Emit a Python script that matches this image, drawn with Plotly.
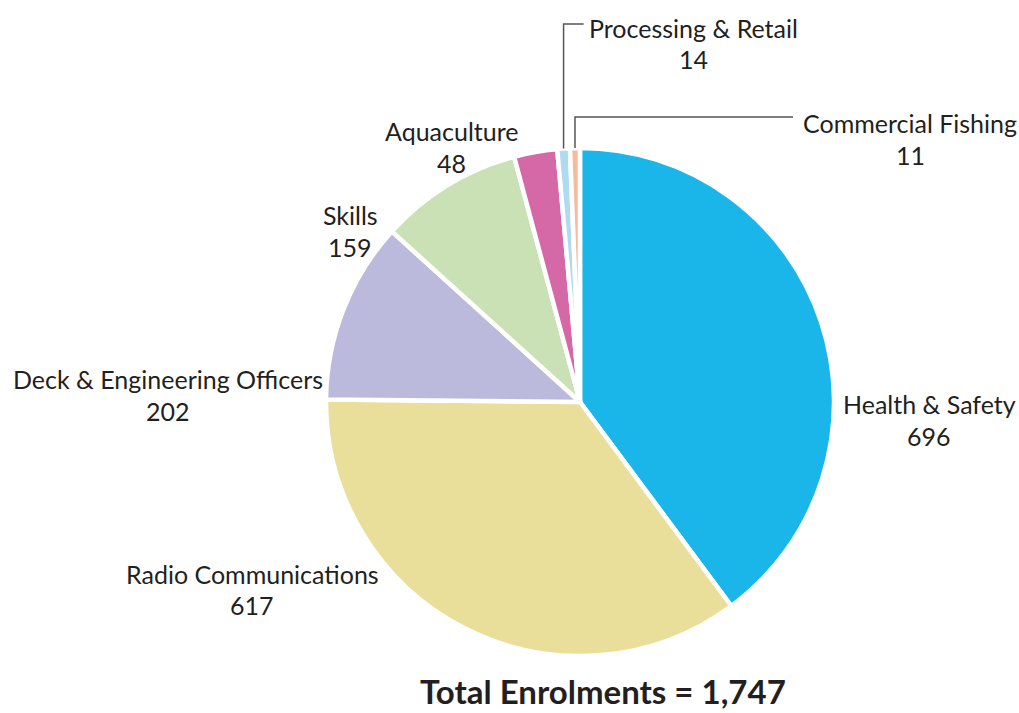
import math
import plotly.graph_objects as go

# Enrolments by course area
categories = [
    "Health & Safety",
    "Radio Communications",
    "Deck & Engineering Officers",
    "Skills",
    "Aquaculture",
    "Processing & Retail",
    "Commercial Fishing",
]
enrolments = [696, 617, 202, 159, 48, 14, 11]
colors = ["#1AB6E9", "#E9DF9B", "#BCBADC", "#C9E1B5", "#D568A6", "#AEDBF1", "#F7BA9C"]
total_label = "Total Enrolments = 1,747"

W, H = 1019, 713
CX, CY, R = 580, 402, 254
FONT = "Lato"
TXT = "#231F20"
FS = 25


def px(x):
    return x / W


def py(y):
    return 1 - y / H


fig = go.Figure(
    go.Pie(
        labels=categories,
        values=enrolments,
        sort=False,
        direction="clockwise",
        rotation=0,
        marker=dict(colors=colors, line=dict(color="white", width=4.5)),
        textinfo="none",
        hoverinfo="label+value",
        showlegend=False,
        domain=dict(x=[px(CX - R), px(CX + R)], y=[py(CY + R), py(CY - R)]),
    )
)

annotations = []
shapes = []


def two_line(name, value, x, y_name, y_value):
    annotations.append(dict(x=px(x), y=py(y_name), xref="paper", yref="paper",
                            text=name, showarrow=False, xanchor="center", yanchor="middle",
                            font=dict(family=FONT, size=FS, color=TXT)))
    annotations.append(dict(x=px(x), y=py(y_value), xref="paper", yref="paper",
                            text=str(value), showarrow=False, xanchor="center", yanchor="middle",
                            font=dict(family=FONT, size=FS, color=TXT)))


# label placement (centre x, name row y, value row y) in pixels
label_pos = {
    "Health & Safety": (929, 404, 436),
    "Radio Communications": (252, 574, 605),
    "Deck & Engineering Officers": (168, 379, 411),
    "Skills": (350, 215, 247),
    "Aquaculture": (451, 131, 163),
}

for name, val in zip(categories, enrolments):
    if name in label_pos:
        x, y1, y2 = label_pos[name]
        two_line(name, val, x, y1, y2)

# mid-angle of each slice (clockwise from 12 o'clock)
total = sum(enrolments)
mids = {}
acc = 0
for name, val in zip(categories, enrolments):
    mids[name] = (acc + val / 2) / total * 2 * math.pi
    acc += val


def edge_point(name):
    a = mids[name]
    return CX + R * math.sin(a), CY - R * math.cos(a)


# leader lines for the two thin slices
i_proc = categories.index("Processing & Retail")
ex, ey = edge_point("Processing & Retail")
line_y = 24
shapes.append(dict(type="path", xref="paper", yref="paper",
                   path=f"M {px(ex)} {py(ey)} L {px(ex)} {py(line_y)} L {px(ex + 20)} {py(line_y)}",
                   line=dict(color="#555555", width=1.5)))
two_line(categories[i_proc], enrolments[i_proc], ex + 26 + 104, 28, 59)

i_com = categories.index("Commercial Fishing")
ex, ey = edge_point("Commercial Fishing")
line_y = 117
shapes.append(dict(type="path", xref="paper", yref="paper",
                   path=f"M {px(ex)} {py(ey)} L {px(ex)} {py(line_y)} L {px(793)} {py(line_y)}",
                   line=dict(color="#555555", width=1.5)))
two_line(categories[i_com], enrolments[i_com], 910, 123, 155)

annotations.append(dict(x=px(603), y=py(691), xref="paper", yref="paper",
                        text=f"<b>{total_label}</b>", showarrow=False,
                        xanchor="center", yanchor="middle",
                        font=dict(family=FONT, size=33, color=TXT)))

fig.update_layout(
    width=W, height=H,
    margin=dict(l=0, r=0, t=0, b=0),
    paper_bgcolor="white", plot_bgcolor="white",
    annotations=annotations, shapes=shapes,
)

fig.write_html("out.html")
